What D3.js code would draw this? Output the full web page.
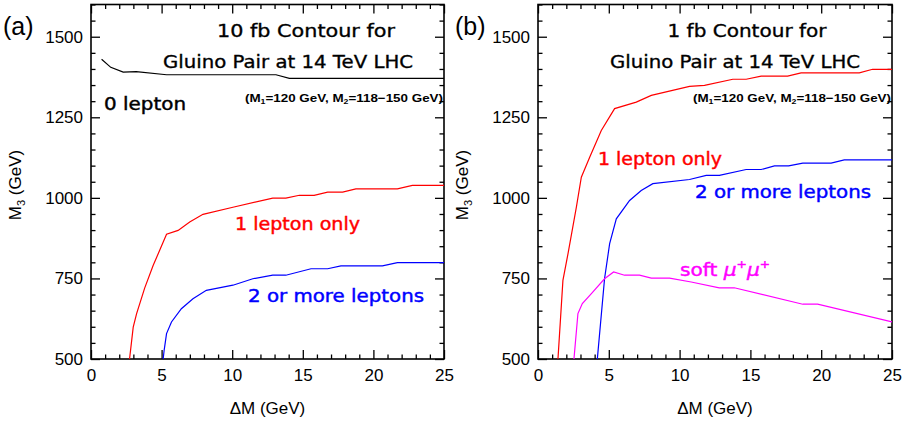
<!DOCTYPE html>
<html><head><meta charset="utf-8">
<script src="https://cdn.jsdelivr.net/npm/d3@7"></script>
<style>
body{margin:0;background:#fff;}
svg{display:block;}
text{fill:#000;}
</style></head>
<body>
<svg id="c" width="903" height="424"></svg>
<script>
// ---- data ----
const xTicks = [0, 5, 10, 15, 20, 25];
const yTicks = [500, 750, 1000, 1250, 1500];
const panelLabels = ["(a)", "(b)"];
const titleLine1 = ["10 fb Contour for", "1 fb Contour for"];
const titleLine2 = "Gluino Pair at 14 TeV LHC";

const a_zeroLepton = [[0.75,1430],[1.4,1405],[2.28,1390],[3.2,1392],[5.35,1382],[13.1,1382],[14.05,1371],[25,1371]];
const a_oneLepton = [[2.73,500],[2.99,599],[3.23,641],[3.8,720],[4.4,790],[5.35,887],[6.17,899],[6.99,925],[7.93,949],[10.05,971],[12.87,999],[13.8,999],[14.76,1008],[15.8,1008],[16.76,1018],[17.82,1018],[18.76,1028],[21.7,1028],[22.76,1039],[25,1039]];
const a_twoLeptons = [[5.11,500],[5.18,527],[5.35,579],[5.7,615],[6.4,656],[7.22,687],[8.17,713],[10.05,729],[11.46,749],[12.87,760],[13.8,760],[15.58,780],[16.76,780],[17.7,789],[20.64,789],[21.7,799],[25,799]];

const b_oneLepton = [[1.41,500],[1.76,744],[2.12,827],[2.71,971],[3.06,1064],[3.65,1126],[4.47,1209],[5.41,1277],[6.94,1297],[8.0,1318],[10.7,1346],[11.76,1349],[13.76,1368],[14.7,1368],[15.76,1378],[17.63,1378],[18.58,1388],[22.69,1388],[23.63,1399],[25,1399]];
const b_twoLeptons = [[4.19,500],[4.7,749],[5.06,858],[5.53,935],[6.47,992],[7.29,1023],[8.11,1044],[10.7,1057],[11.88,1070],[12.81,1070],[14.7,1088],[15.76,1088],[16.7,1099],[17.7,1099],[18.7,1108],[20.7,1108],[21.63,1118],[25,1118]];
const b_softMuMu = [[2.54,500],[2.82,641],[3.13,672],[3.77,703],[4.7,749],[5.34,770],[6.11,760],[7.17,760],[8.0,751],[9.29,751],[10.82,739],[12.8,721],[13.86,721],[18.7,670],[19.75,670],[25,615]];

// ---- drawing ----
const svg = d3.select("#c");
const tickFont = "'Liberation Sans', Arial, Helvetica, sans-serif";
const annFont = "'DejaVu Sans', Verdana, sans-serif";

const panels = [
  {x0:91, x1:444, label:panelLabels[0], lx:3, t1:titleLine1[0], t1x:306, t1w:178, t2x:288, subx:444,
   series:[{d:a_zeroLepton,c:"#000"},{d:a_oneLepton,c:"#ff0000"},{d:a_twoLeptons,c:"#0000ff"}],
   labels:[{t:"0 lepton",x:104,y:110,c:"#000",w:82},{t:"1 lepton only",x:235,y:230,c:"#ff0000",w:125},{t:"2 or more leptons",x:248,y:302,c:"#0000ff",w:176}]},
  {x0:538, x1:892, label:panelLabels[1], lx:455, t1:titleLine1[1], t1x:747, t1w:159, t2x:735, subx:892,
   series:[{d:b_oneLepton,c:"#ff0000"},{d:b_twoLeptons,c:"#0000ff"},{d:b_softMuMu,c:"#ff00ff"}],
   labels:[{t:"1 lepton only",x:598,y:165,c:"#ff0000",w:124},{t:"2 or more leptons",x:695,y:198,c:"#0000ff",w:176}]}
];

const yTop = 4.5, yBot = 359;

panels.forEach((p, i) => {
  const x = d3.scaleLinear().domain([0,25]).range([p.x0, p.x1]);
  const y = d3.scaleLinear().domain([500,1600]).range([yBot, yTop]);
  const g = svg.append("g");

  const clipId = "clip" + i;
  svg.append("clipPath").attr("id", clipId).append("rect")
    .attr("x", p.x0).attr("y", yTop).attr("width", p.x1 - p.x0).attr("height", yBot - yTop);

  const xMinor = d3.range(0, 26, 1).filter(v => v % 5 !== 0);
  const yMinor = d3.range(500, 1601, 50).filter(v => v % 250 !== 0);

  const bottom = g.append("g").attr("transform", `translate(0,${yBot})`)
    .call(d3.axisBottom(x).tickValues(xTicks).tickSizeInner(-9).tickSizeOuter(0).tickPadding(6).tickFormat(d3.format("d")));
  bottom.selectAll("text").attr("font-family", tickFont).attr("font-size", 17).attr("dy", "0.95em");
  g.append("g").attr("transform", `translate(0,${yBot})`)
    .call(d3.axisBottom(x).tickValues(xMinor).tickSizeInner(-4.5).tickSizeOuter(0).tickFormat(""));
  g.append("g").attr("transform", `translate(0,${yTop})`)
    .call(d3.axisTop(x).tickValues(xTicks).tickSizeInner(-9).tickSizeOuter(0).tickFormat(""));
  g.append("g").attr("transform", `translate(0,${yTop})`)
    .call(d3.axisTop(x).tickValues(xMinor).tickSizeInner(-4.5).tickSizeOuter(0).tickFormat(""));
  const left = g.append("g").attr("transform", `translate(${p.x0},0)`)
    .call(d3.axisLeft(y).tickValues(yTicks).tickSizeInner(-9).tickSizeOuter(0).tickPadding(8).tickFormat(d3.format("d")));
  left.selectAll("text").attr("font-family", tickFont).attr("font-size", 17);
  g.append("g").attr("transform", `translate(${p.x0},0)`)
    .call(d3.axisLeft(y).tickValues(yMinor).tickSizeInner(-4.5).tickSizeOuter(0).tickFormat(""));
  g.append("g").attr("transform", `translate(${p.x1},0)`)
    .call(d3.axisRight(y).tickValues(yTicks).tickSizeInner(-9).tickSizeOuter(0).tickFormat(""));
  g.append("g").attr("transform", `translate(${p.x1},0)`)
    .call(d3.axisRight(y).tickValues(yMinor).tickSizeInner(-4.5).tickSizeOuter(0).tickFormat(""));

  g.selectAll(".domain").remove();
  g.selectAll(".tick line").attr("stroke", "#000").attr("stroke-width", 1.3);

  g.append("rect").attr("x", p.x0).attr("y", yTop).attr("width", p.x1 - p.x0).attr("height", yBot - yTop)
    .attr("fill", "none").attr("stroke", "#000").attr("stroke-width", 1.6);

  const line = d3.line().x(d => x(d[0])).y(d => y(d[1]));
  p.series.forEach(s => {
    g.append("path").attr("d", line(s.d)).attr("fill", "none").attr("stroke", s.c)
      .attr("stroke-width", 1.2).attr("clip-path", `url(#${clipId})`);
  });

  g.append("text").attr("x", p.lx).attr("y", 35).attr("font-family", tickFont).attr("font-size", 25).text(p.label);

  g.append("text").attr("x", p.t1x).attr("y", 37).attr("text-anchor", "middle")
    .attr("font-family", annFont).attr("font-size", 18).attr("stroke", "#000").attr("stroke-width", 0.35)
    .attr("textLength", p.t1w).attr("lengthAdjust", "spacingAndGlyphs").text(p.t1);
  g.append("text").attr("x", p.t2x).attr("y", 68).attr("text-anchor", "middle")
    .attr("font-family", annFont).attr("font-size", 18).attr("stroke", "#000").attr("stroke-width", 0.35)
    .attr("textLength", 250).attr("lengthAdjust", "spacingAndGlyphs").text(titleLine2);

  const sub = g.append("text").attr("x", p.subx - 1).attr("y", 102).attr("text-anchor", "end")
    .attr("font-family", tickFont).attr("font-weight", "bold").attr("font-size", 11.5)
    .attr("textLength", 198).attr("lengthAdjust", "spacingAndGlyphs");
  sub.append("tspan").text("(M");
  sub.append("tspan").attr("font-size", 7.5).attr("dy", 2).text("1");
  sub.append("tspan").attr("dy", -2).text("=120 GeV, M");
  sub.append("tspan").attr("font-size", 7.5).attr("dy", 2).text("2");
  sub.append("tspan").attr("dy", -2).text("=118\u2212150 GeV)");

  p.labels.forEach(l => {
    g.append("text").attr("x", l.x).attr("y", l.y).style("fill", l.c)
      .attr("stroke", l.c).attr("stroke-width", 0.45)
      .attr("font-family", annFont).attr("font-size", 18)
      .attr("textLength", l.w).attr("lengthAdjust", "spacingAndGlyphs").text(l.t);
  });

  const cx = (p.x0 + p.x1) / 2;
  g.append("text").attr("x", cx).attr("y", 414).attr("text-anchor", "middle")
    .attr("font-family", tickFont).attr("font-size", 17).text("\u0394M (GeV)");
  const yl = g.append("text").attr("transform", `translate(${p.x0 - 70},185) rotate(-90)`)
    .attr("text-anchor", "middle").attr("font-family", tickFont).attr("font-size", 17);
  yl.append("tspan").text("M");
  yl.append("tspan").attr("font-size", 11).attr("dy", 4).text("3");
  yl.append("tspan").attr("dy", -4).text(" (GeV)");
});

// soft mu+mu+ label in panel (b)
const mu = svg.append("text").attr("x", 680).attr("y", 276).style("fill", "#ff00ff")
  .attr("stroke", "#ff00ff").attr("stroke-width", 0.45)
  .attr("font-family", annFont).attr("font-size", 18)
  .attr("textLength", 90).attr("lengthAdjust", "spacingAndGlyphs");
mu.append("tspan").text("soft ");
mu.append("tspan").attr("font-style", "italic").text("\u03bc");
mu.append("tspan").attr("font-size", 11).attr("dy", -8).text("+");
mu.append("tspan").attr("font-style", "italic").attr("font-size", 18).attr("dy", 8).text("\u03bc");
mu.append("tspan").attr("font-size", 11).attr("dy", -8).text("+");
</script>
</body></html>
